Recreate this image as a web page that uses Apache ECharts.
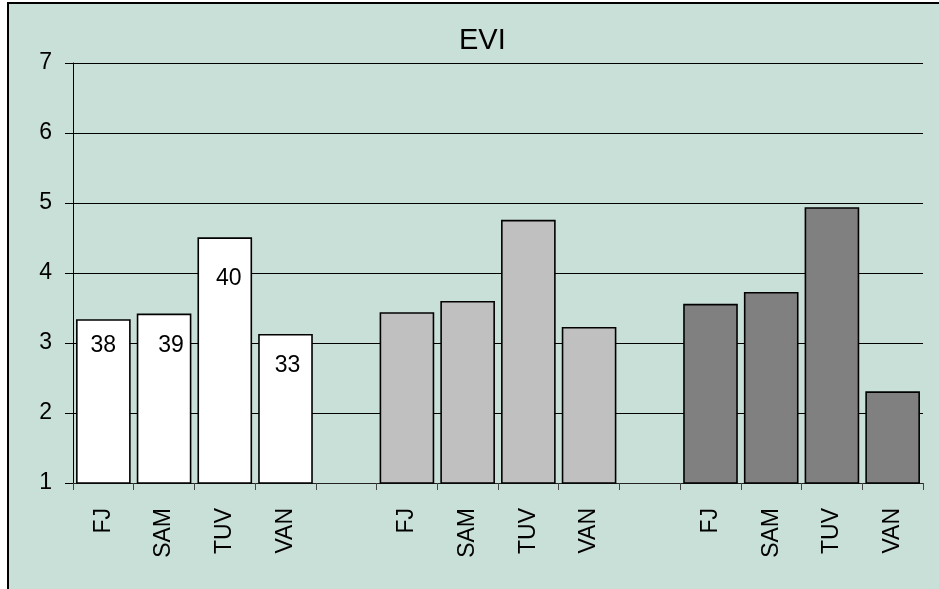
<!DOCTYPE html>
<html>
<head>
<meta charset="utf-8">
<script src="https://cdn.jsdelivr.net/npm/echarts@6/dist/echarts.min.js"></script>
<style>
  html, body { margin: 0; padding: 0; background: #fff; }
  #chart { width: 939px; height: 589px; }
</style>
</head>
<body>
<div id="chart"></div>
<script>
// Country groups shown three times along the axis, separated by an empty slot
const countries = ['FJ', 'SAM', 'TUV', 'VAN'];
const eviGroup1 = [3.34, 3.42, 4.51, 3.13];
const eviGroup2 = [3.44, 3.60, 4.76, 3.23];
const eviGroup3 = [3.56, 3.73, 4.94, 2.31];
// Numbers printed inside the first group's bars
const group1Labels = [38, 39, 40, 33];
const yTicks = [1, 2, 3, 4, 5, 6, 7];

// Styling
const groupColors = ['#FFFFFF', '#C0C0C0', '#808080'];
const labelShifts = [[0, 10], [7, 16], [4, 25], [2, 15]];
const FONT = 'Liberation Sans, Arial, sans-serif';

const groups = [eviGroup1, eviGroup2, eviGroup3];
const categories = [];
const barData = [];
groups.forEach((vals, g) => {
  if (g > 0) {
    categories.push('');
    barData.push('-');
  }
  vals.forEach((v, i) => {
    categories.push(countries[i]);
    const item = { value: v, itemStyle: { color: groupColors[g] } };
    if (g === 0) {
      item.label = {
        show: true,
        position: 'insideTop',
        distance: 5,
        offset: labelShifts[i],
        formatter: String(group1Labels[i])
      };
    }
    barData.push(item);
  });
});

const chart = echarts.init(document.getElementById('chart'), null, { renderer: 'canvas' });
chart.setOption({
  backgroundColor: '#ffffff',
  animation: false,
  graphic: [{
    type: 'rect',
    z: -10,
    silent: true,
    shape: { x: 8, y: 3, width: 960, height: 620 },
    style: { fill: '#C9E0D8', stroke: '#000000', lineWidth: 2 }
  }],
  title: {
    text: 'EVI',
    left: 454,
    top: 21,
    textStyle: {
      fontFamily: FONT,
      fontSize: 29,
      fontWeight: 'normal',
      color: '#000'
    }
  },
  grid: { left: 73, right: 16, top: 63, bottom: 106, containLabel: false },
  xAxis: {
    type: 'category',
    data: categories,
    boundaryGap: true,
    axisLine: { lineStyle: { color: '#222', width: 1 } },
    axisTick: { show: true, length: 7, interval: 0, lineStyle: { color: '#444' } },
    axisLabel: {
      interval: 0,
      rotate: 90,
      margin: 25,
      fontFamily: FONT,
      fontSize: 23,
      color: '#000'
    },
    splitLine: { show: false }
  },
  yAxis: {
    type: 'value',
    min: yTicks[0],
    max: yTicks[yTicks.length - 1],
    interval: 1,
    axisLine: { show: true, lineStyle: { color: '#000', width: 1 } },
    axisTick: { show: true, length: 8, lineStyle: { color: '#000' } },
    axisLabel: {
      margin: 21,
      fontFamily: FONT,
      fontSize: 23,
      color: '#000'
    },
    splitLine: { show: true, lineStyle: { color: '#000', width: 1 } }
  },
  series: [{
    type: 'bar',
    data: barData,
    barCategoryGap: '10%',
    itemStyle: { borderColor: '#000', borderWidth: 1.6 },
    label: {
      fontFamily: FONT,
      fontSize: 23,
      color: '#000'
    }
  }]
});
</script>
</body>
</html>
